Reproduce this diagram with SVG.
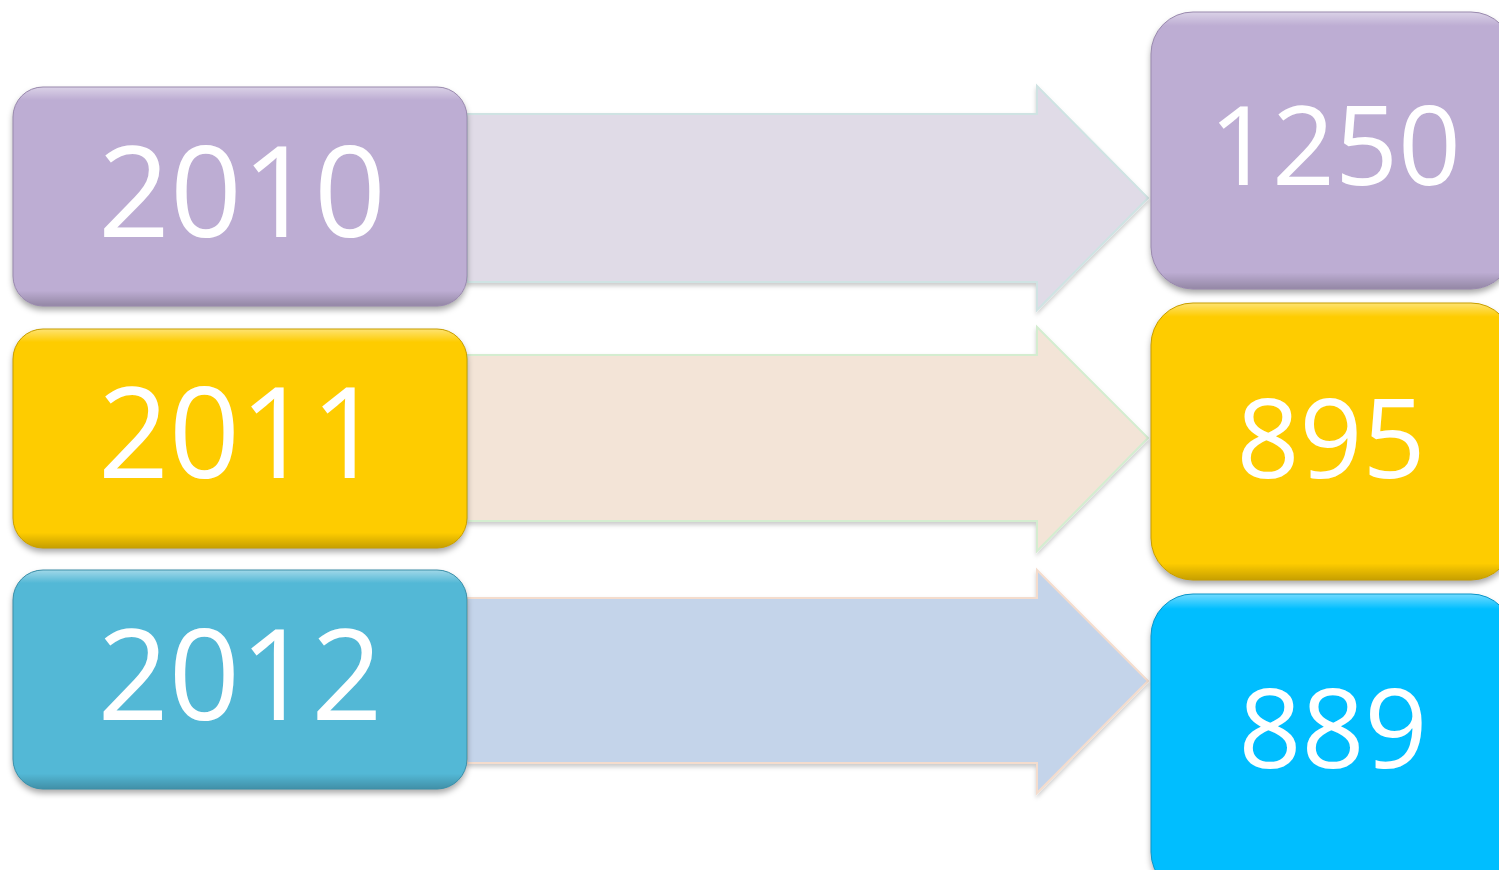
<svg xmlns="http://www.w3.org/2000/svg" width="1499" height="870" viewBox="0 0 1499 870">
<defs>
<style>
.lbl{font-family:"Open Sans","Liberation Sans",sans-serif;font-size:126px;fill:#ffffff;text-anchor:middle}
.rl{font-size:109px}
.box{filter:url(#sh)}
.arrow{stroke-width:2;filter:url(#ash)}
</style>
<filter id="sh" x="-10%" y="-10%" width="120%" height="125%">
<feDropShadow dx="0" dy="4" stdDeviation="3" flood-color="#000" flood-opacity="0.35"/>
</filter>
<filter id="ash" x="-5%" y="-10%" width="110%" height="125%">
<feDropShadow dx="0" dy="3" stdDeviation="2" flood-color="#000" flood-opacity="0.2"/>
</filter>
<linearGradient id="bev" x1="0" y1="0" x2="0" y2="1">
<stop offset="0" stop-color="#fff" stop-opacity="0.45"/>
<stop offset="0.06" stop-color="#fff" stop-opacity="0"/>
<stop offset="0.93" stop-color="#000" stop-opacity="0"/>
<stop offset="1" stop-color="#000" stop-opacity="0.22"/>
</linearGradient>
<linearGradient id="bevr" x1="0" y1="0" x2="0" y2="1">
<stop offset="0" stop-color="#fff" stop-opacity="0.45"/>
<stop offset="0.05" stop-color="#fff" stop-opacity="0"/>
<stop offset="0.94" stop-color="#000" stop-opacity="0"/>
<stop offset="1" stop-color="#000" stop-opacity="0.22"/>
</linearGradient>
</defs>
<rect width="1499" height="870" fill="#ffffff"/>
<g id="connectors">
<polygon class="arrow" points="467,114 1037,114 1037,86 1148,198 1037,310 1037,282 467,282" fill="#E0DBE7" stroke="#CFE3E3"/>
<polygon class="arrow" points="467,355 1037,355 1037,327 1148,438 1037,551 1037,521 467,521" fill="#F3E4D7" stroke="#D4EDD0"/>
<polygon class="arrow" points="467,598 1037,598 1037,570 1148,681 1037,793 1037,763 467,763" fill="#C4D4EA" stroke="#F4DCCD"/>
</g>
<g id="n2010">
<rect class="box" x="13" y="87" width="454" height="219" rx="30" fill="#BDADD3"/>
<rect x="13" y="87" width="454" height="219" rx="30" fill="url(#bev)" stroke="#9A8AAE" stroke-width="1"/>
<text class="lbl" x="242" y="237" textLength="288" lengthAdjust="spacingAndGlyphs">2010</text>
</g>
<g id="n2011">
<rect class="box" x="13" y="329" width="454" height="219" rx="30" fill="#FECC03"/>
<rect x="13" y="329" width="454" height="219" rx="30" fill="url(#bev)" stroke="#C89E00" stroke-width="1"/>
<text class="lbl" x="240" y="478" textLength="284" lengthAdjust="spacingAndGlyphs">2011</text>
</g>
<g id="n2012">
<rect class="box" x="13" y="570" width="454" height="219" rx="30" fill="#52B8D6"/>
<rect x="13" y="570" width="454" height="219" rx="30" fill="url(#bev)" stroke="#3C8FA8" stroke-width="1"/>
<text class="lbl" x="240" y="720" textLength="285" lengthAdjust="spacingAndGlyphs">2012</text>
</g>
<g id="n1250">
<rect class="box" x="1151" y="12" width="362" height="277" rx="42" fill="#BDADD3"/>
<rect x="1151" y="12" width="362" height="277" rx="42" fill="url(#bevr)" stroke="#9A8AAE" stroke-width="1"/>
<text class="lbl rl" x="1335" y="185" textLength="252" lengthAdjust="spacingAndGlyphs">1250</text>
</g>
<g id="n895">
<rect class="box" x="1151" y="303" width="362" height="277" rx="42" fill="#FECC03"/>
<rect x="1151" y="303" width="362" height="277" rx="42" fill="url(#bevr)" stroke="#C89E00" stroke-width="1"/>
<text class="lbl rl" x="1331" y="478" textLength="189" lengthAdjust="spacingAndGlyphs">895</text>
</g>
<g id="n889">
<rect class="box" x="1151" y="594" width="362" height="300" rx="42" fill="#06BEFF"/>
<rect x="1151" y="594" width="362" height="300" rx="42" fill="url(#bevr)" stroke="#0A95C8" stroke-width="1"/>
<text class="lbl rl" x="1333" y="768" textLength="189" lengthAdjust="spacingAndGlyphs">889</text>
</g>
</svg>
